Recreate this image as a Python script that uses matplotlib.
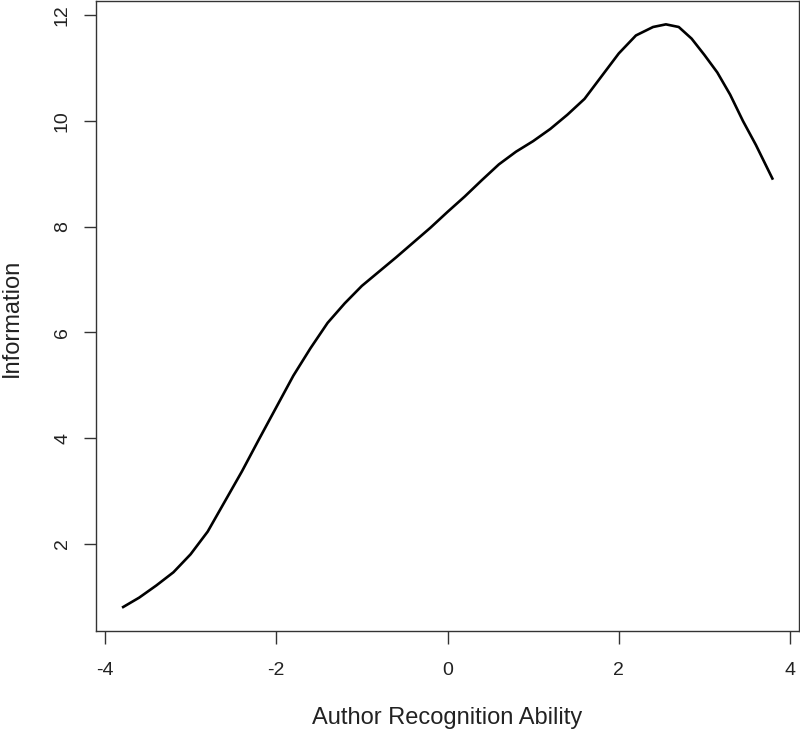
import numpy as np
import matplotlib
matplotlib.use("Agg")
import matplotlib.pyplot as plt

theta = [-3.8, -3.6, -3.4, -3.2, -3.0, -2.8, -2.6, -2.4, -2.2, -2.0, -1.8, -1.6,
         -1.4, -1.2, -1.0, -0.8, -0.6, -0.4, -0.2, 0.0, 0.2, 0.4, 0.6, 0.8, 1.0,
         1.2, 1.4, 1.6, 1.8, 2.0, 2.2, 2.4, 2.55, 2.7, 2.85, 3.0, 3.15, 3.3, 3.45,
         3.6, 3.8]
information = [0.79, 0.98, 1.21, 1.46, 1.80, 2.23, 2.80, 3.37, 3.98, 4.58, 5.18, 5.70,
               6.18, 6.55, 6.88, 7.15, 7.42, 7.70, 7.98, 8.28, 8.57, 8.88, 9.18, 9.42, 9.62,
               9.85, 10.12, 10.42, 10.85, 11.28, 11.62, 11.78, 11.83, 11.78, 11.56, 11.25,
               10.92, 10.50, 10.00, 9.55, 8.89]
xticks = [-4, -2, 0, 2, 4]
yticks = [2, 4, 6, 8, 10, 12]

plt.rcParams['font.family'] = ['Liberation Sans', 'DejaVu Sans']

fig = plt.figure(figsize=(8, 7.3), dpi=100)
ax = fig.add_axes([0.12, 0.1356, 0.87875, 0.863])

ax.plot(theta, information, color='black', linewidth=1.9,
        solid_capstyle='butt', solid_joinstyle='round')

def rlim(v):
    lo, hi = min(v), max(v)
    d = (hi - lo) * 0.04
    return lo - d, hi + d

ax.set_xlim(*rlim(theta))
ax.set_ylim(*rlim(information))
ax.set_xticks(xticks)
ax.set_yticks(yticks)
ax.set_xticklabels([str(t) for t in xticks])
ax.set_yticklabels([str(t) for t in yticks], rotation=90, va='center')

for s in ax.spines.values():
    s.set_color('#333333')
    s.set_linewidth(1.0)

ax.tick_params(axis='both', direction='out', length=9, width=1.0, color='#333333',
               labelsize=14, labelcolor='#222222')
ax.tick_params(axis='x', pad=13)
ax.tick_params(axis='y', pad=9)

ax.set_xlabel('Author Recognition Ability', fontsize=17, color='#222222')
ax.xaxis.label.set_va('baseline')
ax.xaxis.set_label_coords(0.5, -0.1475)
ax.set_ylabel('Information', fontsize=17, color='#222222')
ax.yaxis.label.set_ha('center')
ax.yaxis.label.set_va('center')
ax.yaxis.set_label_coords(-0.120, 0.497)

fig.savefig('out.png', dpi=100)
